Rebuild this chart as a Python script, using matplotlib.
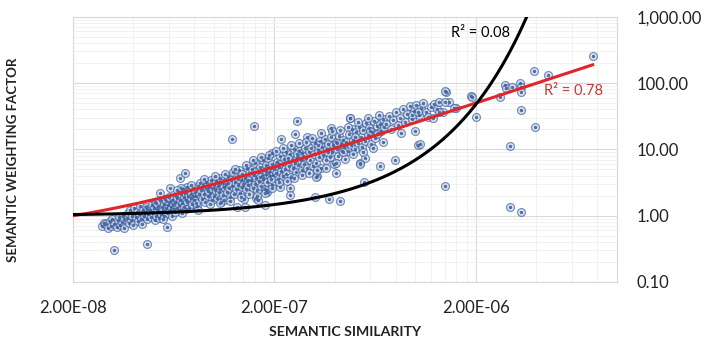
import numpy as np
import matplotlib
matplotlib.use("Agg")
import matplotlib.pyplot as plt
from matplotlib.ticker import FixedLocator, FuncFormatter, NullFormatter

plt.rcParams['font.family'] = ['Lato', 'DejaVu Sans']

# semantic similarity (in units of 1e-8) and semantic weighting factor
sim_e8 = [
    2.8, 2.85, 2.9, 3.0, 3.05, 3.1, 3.15, 3.2, 3.3, 3.35, 3.4, 3.45, 3.5, 3.55, 3.6, 3.6, 3.2,
    3.7, 3.75, 3.8, 3.85, 3.9, 3.95, 4.0, 4.05, 4.1, 4.15, 4.2, 4.25, 4.3, 4.35, 4.4, 4.45, 4.5, 4.55, 4.6, 4.65, 4.7, 4.75, 4.7,
    4.85, 4.9, 4.95, 5.0, 5.05, 5.1, 5.15, 5.2, 5.25, 5.3, 5.35, 5.4, 5.45, 5.5, 5.55, 5.6, 5.65, 5.7, 5.75, 5.8, 5.85, 5.9, 5.95,
    6.0, 6.05, 6.1, 6.15, 6.2, 6.25, 6.3, 6.35, 5.4,
    6.45, 6.5, 6.55, 6.6, 6.7, 6.75, 6.8, 6.85, 6.9, 7.0, 7.05, 7.1, 7.15, 7.2, 7.3, 7.35, 7.4, 7.5, 7.55, 7.6, 7.7, 7.75, 7.8,
    7.9, 7.95, 8.0, 8.1, 8.2, 8.3, 8.35, 8.4, 8.5, 6.8, 7.2,
    8.7, 8.8, 8.9, 9.0, 9.1, 9.2, 9.3, 9.4, 9.5, 9.6, 9.7, 9.8, 9.9, 10.0, 10.1, 10.2, 10.3, 10.4, 10.5, 10.6, 10.7, 10.8,
    10.9, 11.0, 11.1, 11.2, 11.3,
    11.5, 11.6, 11.8, 11.9, 12.0, 12.2, 12.3, 12.5, 12.6, 12.7, 12.9, 13.0, 13.1, 13.2, 13.4, 13.5, 13.6, 13.8, 13.9, 14.0,
    14.2, 14.3, 14.5, 14.6, 14.7, 14.9, 15.0, 12.4, 14.3,
    15.3, 15.5, 15.6, 15.8, 16.0, 16.1, 16.3, 16.5, 16.6, 16.8, 17.0, 17.1, 17.3, 17.5, 17.6, 17.8, 18.0, 18.1, 18.3, 18.5,
    18.6, 18.8, 19.0, 19.2, 19.4, 19.6, 19.8, 20.0, 15.9, 16.3, 16.6, 18.0, 18.5, 18.2, 19.5,
    20.3, 20.6, 20.8, 21.0, 21.3, 21.5, 21.8, 22.0, 22.3, 22.5, 22.8, 23.0, 23.3, 23.6, 23.9, 24.2, 24.5, 24.8, 25.1, 25.4,
    25.7, 26.0, 26.3, 26.6, 27.0, 27.3, 27.6, 28.0, 28.4, 28.8, 29.2, 29.6,
    21.4, 24.0, 24.0, 21.7, 25.9, 25.4, 29.2,
    30.2, 30.6, 31.0, 31.5, 31.9, 32.3, 32.8, 33.2, 33.7, 34.2, 34.6, 35.1, 35.6, 36.1, 36.6, 37.1, 37.6, 38.2, 38.7, 39.2,
    39.8, 40.3, 40.9, 41.5, 42.1, 42.7, 43.3, 43.9, 44.5,
    31.9, 32.7, 32.4, 38.2, 37.5, 40.4, 42.2, 47.5, 47.3,
    45.5, 46.3, 47.0, 47.8, 48.6, 49.4, 50.2, 51.0, 51.9, 52.8, 53.6, 54.5, 55.4, 56.4, 57.3, 58.3, 59.3, 60.3, 61.3, 62.4,
    63.5, 64.6, 65.7, 66.8, 68.0, 69.2, 70.4,
    53.4, 55.5, 56.5, 67.1, 79.6, 53.4,
    72, 74, 76, 78, 80, 82, 84, 87, 89, 91, 94, 96, 99, 101, 104, 107, 110, 113, 116, 120, 124, 128, 132,
    85.5, 103, 100, 106, 97, 103, 122, 143, 137, 141, 147, 160,
    141, 141, 155, 131, 190, 192, 200,
    264, 280, 283, 302, 332, 334, 336, 336, 393, 296, 296, 336, 390, 455, 760,
    # band edges
    5.2, 5.6, 6.0, 6.4, 6.9, 7.3, 7.7, 8.2, 8.6, 5.8, 6.6, 7.0,
    9.0, 9.6, 10.2, 10.8, 11.4, 12.0, 12.8, 13.6, 14.4, 15.0, 9.4, 10.6, 11.8, 13.2, 14.8,
    15.6, 16.4, 17.2, 17.9, 18.8, 19.6, 16.0, 17.0, 18.3, 19.3,
    20.5, 21.2, 22.2, 23.1, 24.3, 25.2, 26.4, 27.5, 28.6, 29.8, 21.0, 23.5, 25.8, 27.9,
    30.8, 32.5, 34.3, 36.3, 38.5, 40.5, 42.6, 44.8, 33.0, 37.0, 41.0, 44.0,
    46.5, 49.0, 52.0, 55.0, 58.5, 62.0, 66.0, 69.0, 50.5, 60.0, 64.5,
]
weight = [
    0.71, 0.78, 0.74, 0.65, 0.82, 0.70, 0.90, 0.76, 0.68, 0.85, 0.95, 0.72, 0.80, 1.0, 0.66, 0.88, 0.30,
    0.92, 1.1, 0.78, 1.2, 0.85, 1.0, 0.72, 1.3, 0.95, 1.15, 0.82, 1.05, 1.4, 0.9, 0.75, 1.2, 1.0, 1.1, 1.35, 0.88, 1.25, 1.05, 0.37,
    1.2, 0.95, 1.45, 1.1, 1.3, 0.85, 1.6, 1.0, 1.25, 1.4, 0.92, 1.15, 1.7, 1.05, 1.35, 1.2, 1.5, 0.98, 1.8, 1.3, 1.1, 0.68, 1.45,
    1.6, 1.2, 2.6, 1.35, 1.0, 1.75, 1.5, 1.25, 2.2,
    1.6, 2.0, 1.3, 1.85, 1.45, 2.3, 1.7, 1.2, 2.1, 1.55, 2.5, 1.9, 1.35, 2.2, 1.75, 2.7, 1.6, 2.0, 1.3, 2.4, 1.85, 2.15, 1.5,
    2.6, 1.95, 1.7, 2.3, 2.0, 1.4, 2.8, 1.22, 2.1, 3.66, 4.35,
    2.4, 1.8, 2.9, 2.1, 1.6, 3.2, 2.5, 1.95, 2.7, 2.2, 3.5, 1.7, 2.6, 3.0, 2.0, 2.4, 3.3, 1.85, 2.8, 2.3, 3.7, 2.5,
    1.6, 3.1, 2.05, 2.7, 1.75,
    3.0, 2.3, 4.0, 2.6, 1.9, 3.4, 2.8, 4.5, 2.1, 3.2, 2.5, 3.8, 1.34, 2.9, 4.8, 2.2, 3.5, 2.7, 4.2, 3.0,
    1.8, 3.7, 2.5, 5.2, 3.3, 2.9, 4.4, 14.5, 1.33,
    3.5, 5.0, 2.6, 4.1, 3.0, 6.2, 3.7, 2.4, 4.6, 3.3, 5.5, 2.8, 4.0, 6.8, 3.6, 4.9, 2.5, 4.3, 5.8, 3.2,
    7.4, 4.6, 3.9, 5.2, 2.9, 6.0, 4.1, 5.0, 22.7, 1.83, 1.73, 1.45, 2.28, 2.44, 8.7,
    4.4, 6.5, 3.6, 5.4, 8.0, 4.7, 6.1, 3.9, 7.2, 5.1, 9.0, 4.3, 6.6, 5.6, 8.4, 3.8, 7.0, 5.2, 10.0, 6.2,
    4.6, 7.8, 5.8, 9.5, 6.8, 4.9, 8.8, 6.0, 10.5, 7.4, 5.3, 9.2,
    2.68, 2.62, 2.05, 14.2, 26.5, 16.9, 15.5,
    7.0, 10.5, 5.6, 8.5, 12.5, 6.3, 9.8, 7.6, 13.5, 5.2, 11.0, 8.2, 14.5, 6.8, 10.0, 12.0, 7.8, 15.5, 9.0, 11.5,
    6.0, 13.0, 10.2, 8.0, 16.0, 12.0, 9.5, 14.0, 11.0,
    1.93, 4.0, 3.87, 20.8, 1.78, 4.35, 1.68, 30.0, 29.4,
    13.0, 9.5, 17.0, 11.5, 20.5, 14.0, 10.0, 18.0, 12.5, 22.0, 15.5, 11.0, 19.5, 13.5, 25.0, 16.5, 21.0, 12.0, 18.5, 27.0,
    15.0, 22.5, 17.5, 24.5, 19.0, 28.5, 21.5,
    6.2, 3.25, 7.4, 5.7, 6.9, 6.0,
    24, 32, 20, 28, 36, 23, 30, 40, 26, 34, 45, 29, 38, 46, 33, 42, 50, 36, 31, 44, 48, 40, 52,
    17.4, 11.7, 19, 12, 33, 36, 29.5, 74, 37, 2.8, 51, 42.5,
    75, 51, 42, 37, 64, 61, 30.5,
    62.6, 93, 83, 86.5, 99, 86.5, 72.5, 39, 22, 11.4, 1.34, 1.15, 152, 132, 256,
    # band edges
    1.55, 0.9, 1.9, 1.15, 2.6, 1.25, 2.9, 1.55, 3.1, 1.65, 2.4, 1.1,
    3.6, 1.5, 3.9, 1.55, 4.3, 1.65, 5.0, 1.9, 5.8, 2.1, 2.35, 2.9, 3.1, 3.6, 3.5,
    7.0, 2.0, 7.6, 2.2, 8.2, 2.6, 4.6, 3.8, 4.7, 3.6,
    9.5, 3.2, 10.5, 3.3, 11.5, 3.7, 12.5, 4.1, 13.0, 4.4, 6.0, 7.3, 8.4, 7.9,
    15.0, 4.9, 17.5, 5.3, 19.0, 6.3, 19.5, 7.2, 11.5, 9.2, 12.5, 9.0,
    22.0, 8.5, 26.0, 9.0, 30.0, 10.5, 33.0, 13.0, 15.5, 19.0, 17.0,
]

# trend lines: linear (R2 = 0.78) and exponential (R2 = 0.08)
lin_slope = 2.47e7
lin_intercept = 0.5
exp_a = 1.0
exp_b = 1.93e6
r2_lin = "R² = 0.78"
r2_exp = "R² = 0.08"

x_major = [2e-8, 2e-7, 2e-6]
y_major = [0.1, 1, 10, 100, 1000]

x = np.array(sim_e8) * 1e-8
y = np.array(weight)

fig = plt.figure(figsize=(7.1, 3.38), dpi=100)
ax = fig.add_axes([0.1024, 0.1657, 0.7662, 0.7849])

blue = '#3f62a0'
ax.scatter(x, y, s=32, facecolors='#dbe2ef', edgecolors=blue, linewidths=0.9, alpha=0.7, zorder=3)
ax.scatter(x, y, s=2.5, color=blue, alpha=0.8, zorder=3)

xl = np.geomspace(2e-8, x.max(), 300)
ax.plot(xl, lin_slope * xl + lin_intercept, color='#e0262a', lw=2.2, zorder=4)
xe = np.geomspace(2e-8, 1e-5, 400)
ax.plot(xe, exp_a * np.exp(exp_b * xe), color='black', lw=2.2, zorder=4)

ax.set_xscale('log')
ax.set_yscale('log')
ax.set_xlim(2e-8, 1e-5)
ax.set_ylim(0.1, 1000)

ax.xaxis.set_major_locator(FixedLocator(x_major))
ax.xaxis.set_minor_locator(FixedLocator([k * m for m in x_major for k in range(2, 10) if k * m <= 1e-5]))
ax.yaxis.set_major_locator(FixedLocator(y_major))
ax.yaxis.set_minor_locator(FixedLocator([k * m for m in y_major[:-1] for k in range(2, 10)]))
ax.xaxis.set_major_formatter(FuncFormatter(lambda v, p: f"{v:.2E}"))
ax.yaxis.set_major_formatter(FuncFormatter(lambda v, p: f"{v:,.2f}"))
ax.xaxis.set_minor_formatter(NullFormatter())
ax.yaxis.set_minor_formatter(NullFormatter())

ax.yaxis.tick_right()
ax.tick_params(which='both', length=0)
ax.tick_params(axis='y', labelsize=12, pad=14, colors='#222222')
ax.tick_params(axis='x', labelsize=12, pad=13, colors='#222222')
for lab in ax.get_yticklabels():
    lab.set_horizontalalignment('left')

ax.grid(which='major', color='#d9d9d9', lw=0.8)
ax.grid(which='minor', color='#efefef', lw=0.6)
ax.set_axisbelow(True)
for sp in ax.spines.values():
    sp.set_color('#d9d9d9')
    sp.set_linewidth(0.8)

ax.text(2.12e-6, 570, r2_exp, color='black', fontsize=10.5, ha='center', va='center')
ax.text(6.1e-6, 77, r2_lin, color='#c0393b', fontsize=10.5, ha='center', va='center')

fig.text(344.7 / 710, 1 - 331.7 / 338, 'SEMANTIC SIMILARITY', fontsize=10.2, fontweight='bold',
         ha='center', va='center', color='#222222')
fig.text(13.3 / 710, 1 - 160 / 338, 'SEMANTIC WEIGHTING FACTOR', fontsize=9.5, fontweight='bold',
         rotation=90, ha='center', va='center', color='#222222')

fig.savefig('out.png', dpi=100, facecolor='white')
